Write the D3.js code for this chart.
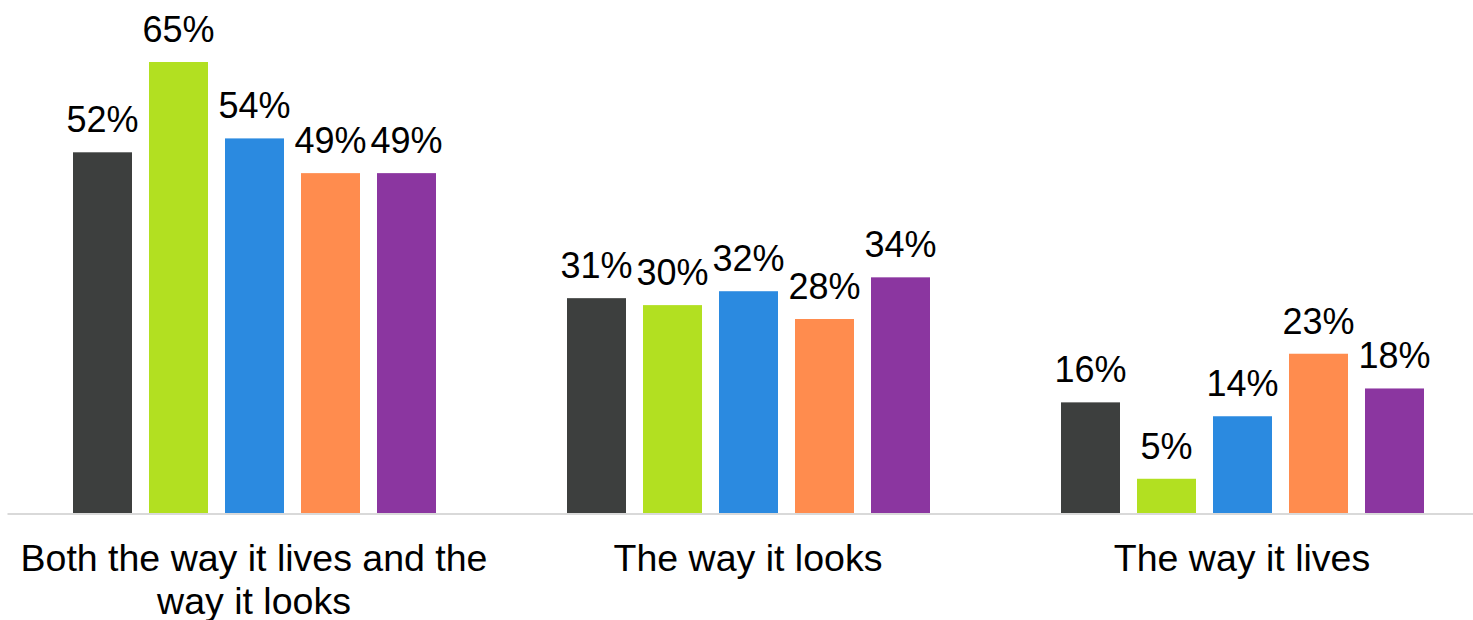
<!DOCTYPE html>
<html>
<head>
<meta charset="utf-8">
<script src="https://cdn.jsdelivr.net/npm/d3@7"></script>
<style>
  html, body { margin: 0; padding: 0; background: #fff; }
  svg { display: block; font-family: "Liberation Sans", Arial, sans-serif; }
</style>
</head>
<body>
<svg id="chart" width="1473" height="620"></svg>
<script>
const categories = ["Both the way it lives and the way it looks", "The way it looks", "The way it lives"];
const seriesNames = ["S1", "S2", "S3", "S4", "S5"];
const seriesColors = ["#3d3f3e", "#b2e021", "#2b8ae0", "#ff8c4e", "#8b36a0"];
const values = [
  [52, 65, 54, 49, 49],
  [31, 30, 32, 28, 34],
  [16, 5, 14, 23, 18]
];

const svg = d3.select("#chart");
const baseY = 513.5;

const x0 = d3.scaleBand().domain(categories).range([7, 1489]).padding(0);
const x1 = d3.scaleBand().domain(seriesNames).range([57.5, 437.5])
  .paddingInner(17 / 76).paddingOuter(17 / 152);
const y = d3.scaleLinear().domain([0, 65]).range([baseY, 62]);

const groups = svg.selectAll("g.grp").data(categories).enter().append("g")
  .attr("class", "grp")
  .attr("transform", d => `translate(${x0(d)},0)`);

groups.each(function(cat, ci) {
  const g = d3.select(this);
  const data = values[ci].map((v, si) => ({ v, s: seriesNames[si], c: seriesColors[si] }));
  g.selectAll("rect").data(data).enter().append("rect")
    .attr("x", d => x1(d.s))
    .attr("y", d => y(d.v))
    .attr("width", x1.bandwidth())
    .attr("height", d => baseY - y(d.v))
    .attr("fill", d => d.c);
  g.selectAll("text.val").data(data).enter().append("text")
    .attr("class", "val")
    .attr("x", d => x1(d.s) + x1.bandwidth() / 2)
    .attr("y", d => y(d.v) - 20)
    .attr("text-anchor", "middle")
    .attr("font-size", 36)
    .attr("fill", "#000")
    .text(d => d.v + "%");
});

// axis baseline
const xAxis = d3.axisBottom(x0).tickSize(0).tickFormat("");
const axG = svg.append("g").attr("transform", `translate(0,${baseY})`).call(xAxis);
axG.select(".domain").attr("stroke", "#d9d9d9").attr("stroke-width", 2);

// category labels with wrapping
const maxW = 485;
categories.forEach(cat => {
  const cx = x0(cat) + x0.bandwidth() / 2;
  const t = svg.append("text")
    .attr("x", cx)
    .attr("y", 571)
    .attr("text-anchor", "middle")
    .attr("font-size", 37.5)
    .attr("fill", "#000");
  const words = cat.split(" ");
  let line = [];
  let tspan = t.append("tspan").attr("x", cx).attr("dy", 0);
  words.forEach(w => {
    line.push(w);
    tspan.text(line.join(" "));
    if (tspan.node().getComputedTextLength() > maxW && line.length > 1) {
      line.pop();
      tspan.text(line.join(" "));
      line = [w];
      tspan = t.append("tspan").attr("x", cx).attr("dy", 42.5).text(w);
    }
  });
});
</script>
</body>
</html>
